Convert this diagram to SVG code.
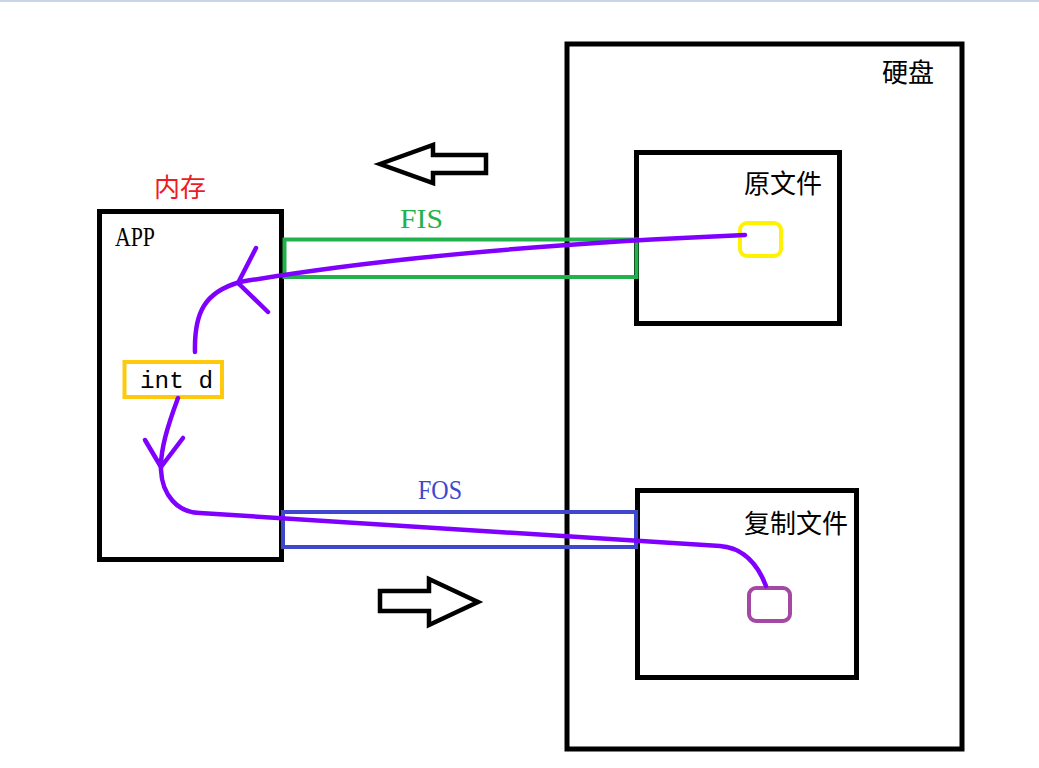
<svg xmlns="http://www.w3.org/2000/svg" width="1039" height="768" viewBox="0 0 1039 768">
<style>
.box{fill:none;stroke:#000;stroke-width:5}
.cjk{font-family:"Noto Sans CJK SC","Noto Sans CJK JP",sans-serif;font-size:26px;fill:#000}
.lat{font-family:"Liberation Serif",serif;font-size:27px}
.flow{fill:none;stroke:#8000ff;stroke-width:4.5;stroke-linecap:round;stroke-linejoin:round}
.bigarrow{fill:#fff;stroke:#000;stroke-width:4.5;stroke-linejoin:miter}
</style>
<rect x="0" y="0" width="1039" height="768" fill="#fff"/>
<rect x="0" y="0" width="1039" height="2" fill="#c9d5e4"/>

<g id="disk">
<rect class="box" x="567" y="44" width="395" height="705"/>
<text class="cjk" x="882" y="82">硬盘</text>
</g>

<g id="source-file">
<rect class="box" x="636.5" y="152.5" width="203" height="171"/>
<text class="cjk" x="744" y="193">原文件</text>
<rect x="740" y="223" width="41" height="33" rx="7" fill="none" stroke="#fff200" stroke-width="4"/>
</g>

<g id="copy-file">
<rect class="box" x="637.5" y="490.5" width="219" height="187"/>
<text class="cjk" x="744" y="533">复制文件</text>
<rect x="749" y="588" width="41" height="33" rx="7" fill="none" stroke="#a349a4" stroke-width="4"/>
</g>

<g id="memory">
<text class="cjk" x="154" y="197" style="fill:#ed1c24">内存</text>
<rect class="box" x="99.5" y="211.5" width="182" height="348"/>
<text class="lat" x="115" y="246" textLength="40" lengthAdjust="spacingAndGlyphs">APP</text>
</g>

<g id="int-d">
<rect x="124.5" y="362" width="97.5" height="35" fill="none" stroke="#ffc90e" stroke-width="4"/>
<text x="140" y="388" font-family="Liberation Mono, monospace" font-size="24" textLength="73" lengthAdjust="spacingAndGlyphs">int d</text>
</g>

<g id="fis">
<rect x="284.5" y="239.5" width="352" height="37.5" fill="none" stroke="#22b14c" stroke-width="4"/>
<text class="lat" x="400" y="228" fill="#22b14c" textLength="43" lengthAdjust="spacingAndGlyphs">FIS</text>
</g>

<g id="fos">
<rect x="283" y="512" width="353" height="35" fill="none" stroke="#3f48cc" stroke-width="4"/>
<text class="lat" x="418" y="499" fill="#3f48cc" textLength="44" lengthAdjust="spacingAndGlyphs">FOS</text>
</g>

<g id="read-arrow">
<polygon class="bigarrow" points="380,164 433,145 433,155 486,155 486,173 433,173 433,183"/>
</g>
<g id="write-arrow">
<polygon class="bigarrow" points="380,591 429,591 429,579 478,602 429,625 429,611 380,611"/>
</g>

<g id="connectors">
<path class="flow" d="M745,235 Q440,248 240,282 C205,292 194,312 195,352"/>
<path class="flow" d="M256,248 L238,283 L268,312"/>
<path class="flow" d="M178,398 C168,425 160,450 161,470 C162,495 178,513 200,513 L720,546 C745,548 758,565 766,586"/>
<path class="flow" d="M145,440 L161,467 L183,438"/>
</g>
</svg>
